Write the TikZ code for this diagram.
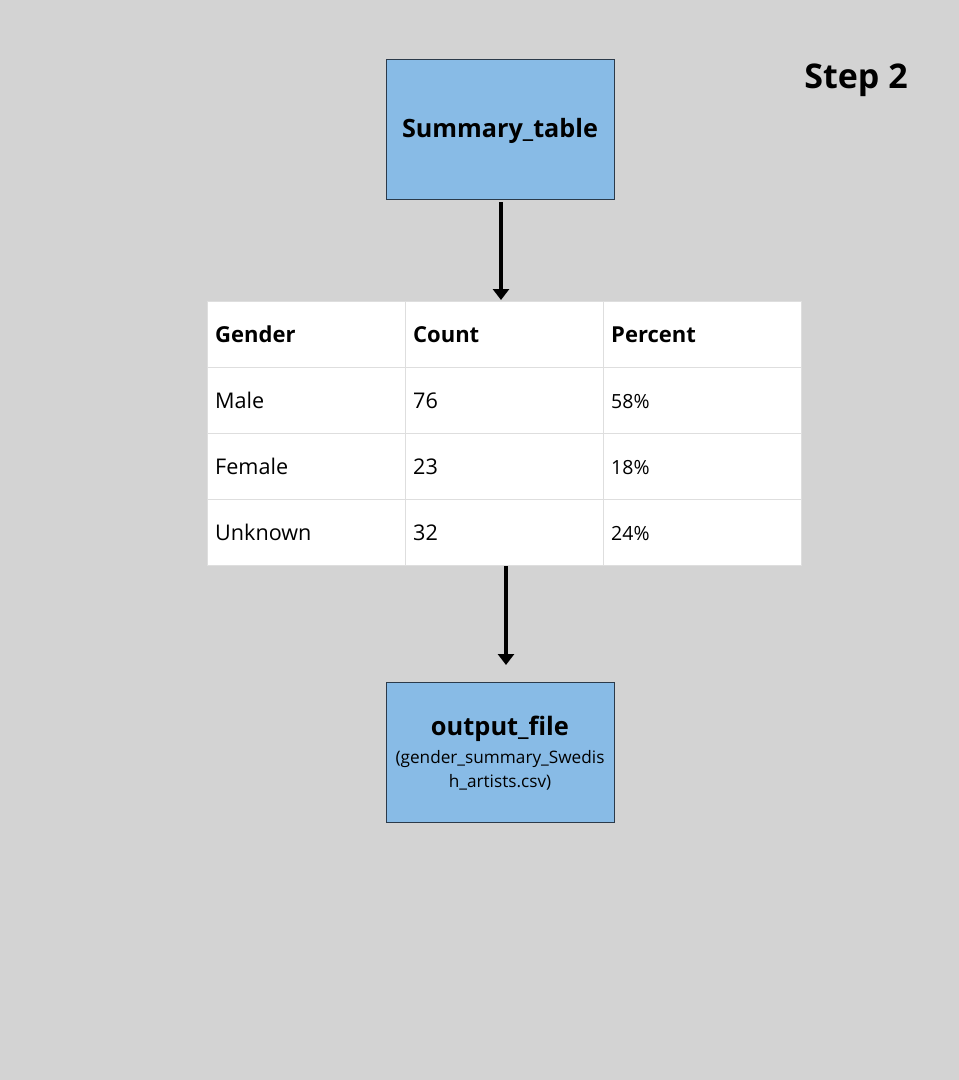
\documentclass[tikz,border=0pt]{standalone}
\usepackage{fontspec}
\setmainfont{Open Sans}
\usetikzlibrary{arrows.meta}
\definecolor{bg}{HTML}{D3D3D3}
\definecolor{boxblue}{HTML}{88BBE6}
\definecolor{boxline}{HTML}{2B3A4A}
\definecolor{gridc}{HTML}{DEDEDE}
\tikzset{
  bluebox/.style={draw=boxline, line width=0.8pt, fill=boxblue, minimum width=228pt, minimum height=140pt, inner sep=0pt, align=center},
  cell/.style={draw=gridc, line width=1pt, fill=white, minimum width=198pt, minimum height=66pt, inner sep=0pt, anchor=north west},
  celltext/.style={anchor=base west, inner sep=0pt},
  hdr/.style={celltext, font=\bfseries\fontsize{22}{26}\selectfont},
  body/.style={celltext, font=\fontsize{21.6}{26}\selectfont},
  pct/.style={celltext, font=\fontsize{19.5}{23}\selectfont},
  arr/.style={line width=3.6pt, -{Triangle[width=16pt,length=11pt]}},
}
\begin{document}
\begin{tikzpicture}[x=1pt,y=-1pt]
\fill[bg] (0,0) rectangle (959,1080);
\useasboundingbox (0,0) rectangle (959,1080);
\node[anchor=base, inner sep=0pt, font=\bfseries\fontsize{34}{40}\selectfont] (step) at (856,88) {Step 2};
\node[bluebox] (summary) at (500,129) {};
\node[anchor=base, inner sep=0pt, font=\bfseries\fontsize{25.2}{30}\selectfont] (stitle) at (500,137) {Summary\_table};
% table cells
\foreach \r [count=\i from 0] in {0,1,2,3}{
  \foreach \c [count=\j from 0] in {0,1,2}{
    \node[cell] (c\i\j) at ({207+198*\j},{301+66*\i}) {};
  }
}
\node[hdr] (h1) at (215,342) {Gender};
\node[hdr] (h2) at (413,342) {Count};
\node[hdr] (h3) at (611,342) {Percent};
\node[body] (m1) at (215,408) {Male};
\node[body] (m2) at (413,408) {76};
\node[pct] (m3) at (611,408) {58\%};
\node[body] (f1) at (215,474) {Female};
\node[body] (f2) at (413,474) {23};
\node[pct] (f3) at (611,474) {18\%};
\node[body] (u1) at (215,540) {Unknown};
\node[body] (u2) at (413,540) {32};
\node[pct] (u3) at (611,540) {24\%};
\node[bluebox] (output) at (500,752) {};
\node[anchor=base, inner sep=0pt, font=\bfseries\fontsize{25.4}{30}\selectfont] (otitle) at (500,735) {output\_file};
\node[anchor=base, inner sep=0pt, font=\fontsize{17.2}{20}\selectfont] (osub1) at (500,763) {(gender\_summary\_Swedis};
\node[anchor=base, inner sep=0pt, font=\fontsize{17.2}{20}\selectfont] (osub2) at (500,787) {h\_artists.csv)};
\coordinate (a1s) at (501,202);
\coordinate (a1e) at (501,300);
\coordinate (a2s) at (506,566);
\coordinate (a2e) at (506,665);
\draw[arr] (a1s) -- (a1e);
\draw[arr] (a2s) -- (a2e);
\end{tikzpicture}
\end{document}
